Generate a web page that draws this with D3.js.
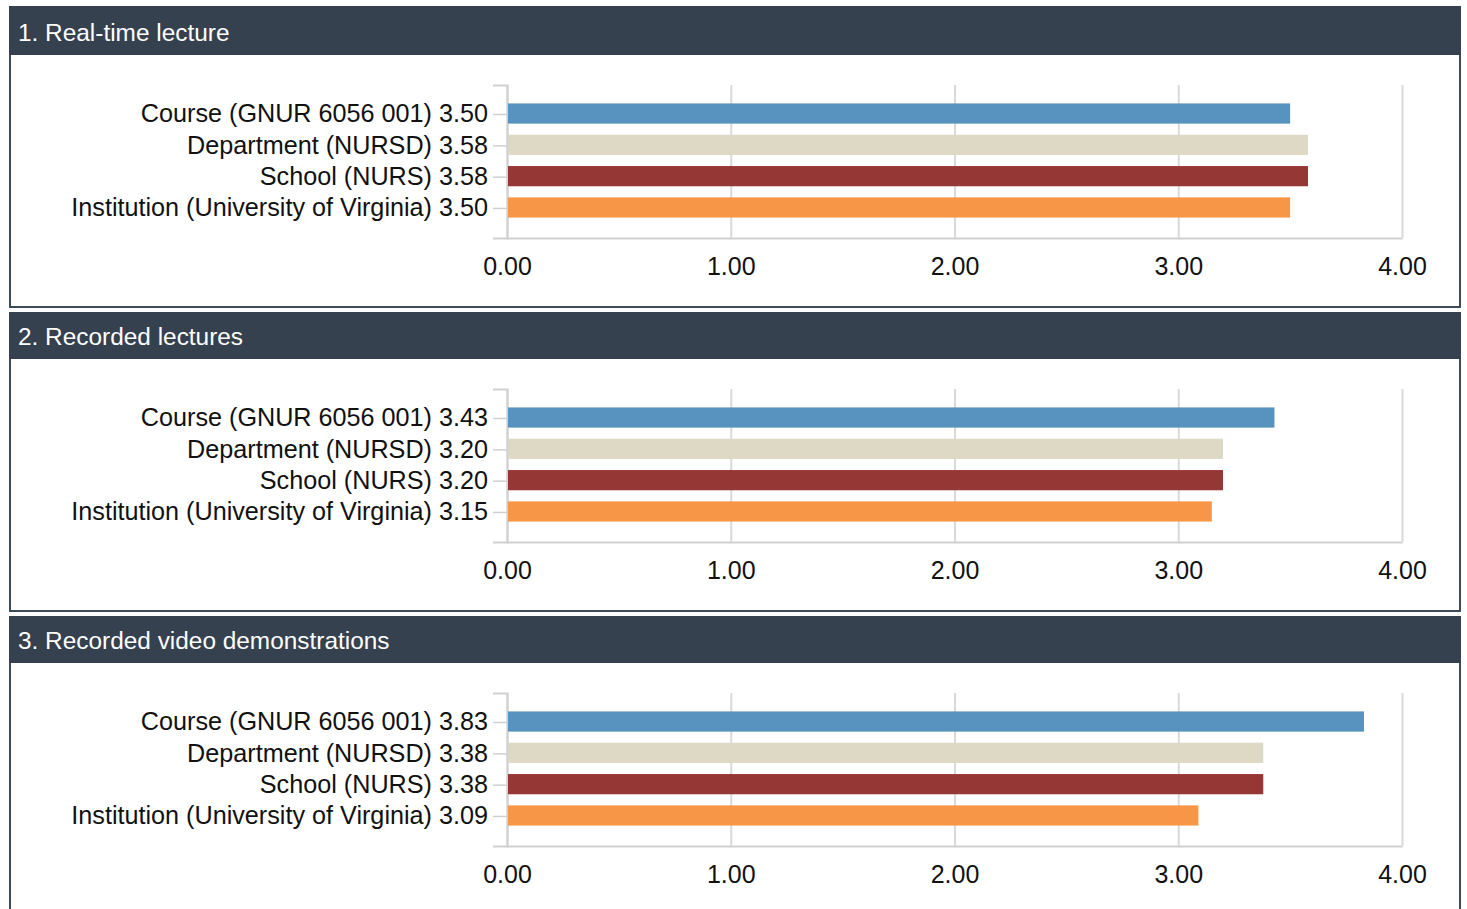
<!DOCTYPE html>
<html>
<head>
<meta charset="utf-8">
<script src="https://cdn.jsdelivr.net/npm/d3@7"></script>
<style>
  html, body { margin: 0; padding: 0; background: #fff; }
  svg { display: block; font-family: "Liberation Sans", Arial, sans-serif; }
</style>
</head>
<body>
<svg id="chart" width="1467" height="909"></svg>
<script>
const categories = [
  "Course (GNUR 6056 001)",
  "Department (NURSD)",
  "School (NURS)",
  "Institution (University of Virginia)"
];
const questions = [
  "1. Real-time lecture",
  "2. Recorded lectures",
  "3. Recorded video demonstrations"
];
const q1Values = [3.50, 3.58, 3.58, 3.50];
const q2Values = [3.43, 3.20, 3.20, 3.15];
const q3Values = [3.83, 3.38, 3.38, 3.09];
const seriesValues = [q1Values, q2Values, q3Values];
const tickValues = [0, 1, 2, 3, 4];
const barColors = ["#5893c0", "#ddd9c4", "#953735", "#f79646"];

const svg = d3.select("#chart");
const fmt = d3.format(".2f");

const panelLeft = 10, panelRight = 1460;
const panelStep = 304, firstTop = 9, headerH = 46;
const plotLeft = 507, plotRight = 1402;
const plotTopOff = 76, plotH = 153;

const x = d3.scaleLinear().domain([0, 4]).range([0, plotRight - plotLeft]);

questions.forEach((q, i) => {
  const top = firstTop + i * panelStep;
  const extra = i === 0 ? 2 : 0;
  const g = svg.append("g");

  // panel box
  g.append("rect")
    .attr("x", panelLeft).attr("y", top - extra)
    .attr("width", panelRight - panelLeft).attr("height", 298 + extra)
    .attr("fill", "#fff").attr("stroke", "#3d4a5b").attr("stroke-width", 2);
  // header
  g.append("rect")
    .attr("x", panelLeft - 1).attr("y", top - extra - 1)
    .attr("width", panelRight - panelLeft + 2).attr("height", headerH + extra + 1)
    .attr("fill", "#36414f");
  g.append("text")
    .attr("x", 18).attr("y", top + 32)
    .attr("fill", "#fff").attr("font-size", 24.4)
    .text(q);

  const plot = g.append("g")
    .attr("transform", `translate(${plotLeft},${top + plotTopOff})`);

  const y = d3.scaleBand()
    .domain(categories)
    .range([0, plotH])
    .paddingInner(11 / 31)
    .paddingOuter(0.62);

  const values = seriesValues[i];

  // x axis with gridlines
  const xAxis = plot.append("g")
    .attr("transform", `translate(0,${plotH})`)
    .call(d3.axisBottom(x).tickValues(tickValues).tickSize(-plotH)
      .tickSizeOuter(0).tickPadding(19).tickFormat(fmt));
  xAxis.selectAll("line").attr("stroke", "#d9d9d9").attr("stroke-width", 2);
  xAxis.select(".domain").attr("stroke", "#d0d0d0").attr("stroke-width", 2);
  xAxis.selectAll("text").attr("font-size", 25).attr("fill", "#111")
    .attr("font-family", "'Liberation Sans', Arial, sans-serif");

  // y axis
  const yAxis = plot.append("g")
    .call(d3.axisLeft(y).tickSize(14).tickSizeOuter(14).tickPadding(5)
      .tickFormat((d, j) => `${d} ${fmt(values[j])}`));
  yAxis.selectAll("line").attr("stroke", "#d0d0d0").attr("stroke-width", 1.5);
  yAxis.select(".domain").attr("stroke", "#d0d0d0").attr("stroke-width", 2);
  yAxis.selectAll("text").attr("font-size", 25.2).attr("fill", "#111")
    .attr("dy", "0.31em")
    .attr("font-family", "'Liberation Sans', Arial, sans-serif");

  // bars
  plot.selectAll("rect.bar")
    .data(categories)
    .join("rect")
    .attr("class", "bar")
    .attr("x", x(0) + 1)
    .attr("y", d => y(d) - 1)
    .attr("width", (d, j) => x(values[j]) - x(0) - 1)
    .attr("height", y.bandwidth())
    .attr("fill", (d, j) => barColors[j]);
});
</script>
</body>
</html>
